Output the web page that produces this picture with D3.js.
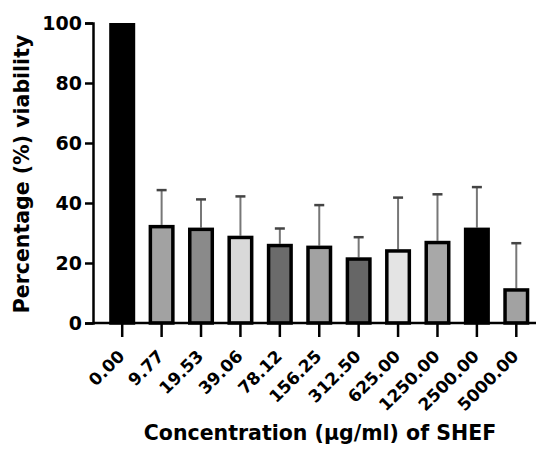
<!DOCTYPE html>
<html>
<head>
<meta charset="utf-8">
<script src="https://cdn.jsdelivr.net/npm/d3@7"></script>
<style>
  html, body { margin: 0; padding: 0; background: #fff; }
  svg { display: block; }
  text { font-family: "DejaVu Sans", "Liberation Sans", Arial, sans-serif; font-weight: bold; }
</style>
</head>
<body>
<svg id="chart" width="536" height="452"></svg>
<script>
const categories = ["0.00", "9.77", "19.53", "39.06", "78.12", "156.25", "312.50", "625.00", "1250.00", "2500.00", "5000.00"];
const means = [100, 32.7, 31.8, 29.1, 26.4, 25.8, 21.9, 24.6, 27.4, 31.8, 11.6];
const upperErr = [0, 44.3, 41.2, 42.2, 31.5, 39.3, 28.6, 41.8, 42.9, 45.3, 26.6];
const fills = ["#000000", "#a2a2a2", "#8a8a8a", "#d9d9d9", "#6b6b6b", "#a2a2a2", "#666666", "#e4e4e4", "#a8a8a8", "#000000", "#a2a2a2"];
const yTicks = [0, 20, 40, 60, 80, 100];

const svg = d3.select("#chart");
const axisX0 = 93, axisXEnd = 536;
const y = d3.scaleLinear().domain([0, 100]).range([323, 23]);
const x = d3.scaleBand().domain(categories).range([102.5, 536]).paddingInner(0.34).paddingOuter(0.17);

const sw = 3.5;
// error bars (upper only)
const eb = svg.append("g");
categories.forEach((c, i) => {
  if (upperErr[i] <= means[i]) return;
  const cx = x(c) + x.bandwidth() / 2;
  eb.append("line").attr("x1", cx).attr("x2", cx)
    .attr("y1", y(means[i])).attr("y2", y(upperErr[i]))
    .attr("stroke", "#777").attr("stroke-width", 2);
  eb.append("line").attr("x1", cx - 5).attr("x2", cx + 5)
    .attr("y1", y(upperErr[i])).attr("y2", y(upperErr[i]))
    .attr("stroke", "#444").attr("stroke-width", 2.5);
});

// bars
svg.append("g").selectAll("rect").data(categories).join("rect")
  .attr("x", c => x(c) + sw / 2)
  .attr("width", x.bandwidth() - sw)
  .attr("y", (c, i) => y(means[i]) + sw / 2)
  .attr("height", (c, i) => y(0) - y(means[i]) - sw / 2)
  .attr("fill", (c, i) => fills[i])
  .attr("stroke", "#000")
  .attr("stroke-width", sw);

// y axis
const yAxis = svg.append("g").attr("transform", `translate(${axisX0},0)`)
  .call(d3.axisLeft(y).tickValues(yTicks).tickSize(8).tickPadding(3).tickFormat(d3.format("d")));
yAxis.select(".domain").attr("stroke", "#000").attr("stroke-width", 2.5);
yAxis.selectAll(".tick line").attr("stroke", "#000").attr("stroke-width", 2.5);
yAxis.selectAll(".tick text").attr("font-size", 19).attr("fill", "#000").attr("dy", "0.36em");

// x axis
const xAxis = svg.append("g").attr("transform", `translate(0,${y(0)})`)
  .call(d3.axisBottom(x).tickSize(14).tickPadding(4));
xAxis.select(".domain").remove();
xAxis.append("line").attr("x1", axisX0).attr("x2", axisXEnd).attr("y1", 0).attr("y2", 0)
  .attr("stroke", "#000").attr("stroke-width", 2.5);
xAxis.selectAll(".tick line").attr("stroke", "#000").attr("stroke-width", 2.5);
xAxis.selectAll(".tick text")
  .attr("font-size", 17).attr("fill", "#000")
  .attr("text-anchor", "end")
  .attr("transform", "translate(-1,30) rotate(-45)")
  .attr("dy", "0.36em").attr("y", 0).attr("x", 0);

// axis titles
svg.append("text").attr("transform", "translate(29,174) rotate(-90)")
  .attr("text-anchor", "middle").attr("font-size", 20.5).attr("fill", "#000")
  .text("Percentage (%) viability");
svg.append("text").attr("x", 320).attr("y", 440)
  .attr("text-anchor", "middle").attr("font-size", 20.5).attr("fill", "#000")
  .text("Concentration (µg/ml) of SHEF");
</script>
</body>
</html>
